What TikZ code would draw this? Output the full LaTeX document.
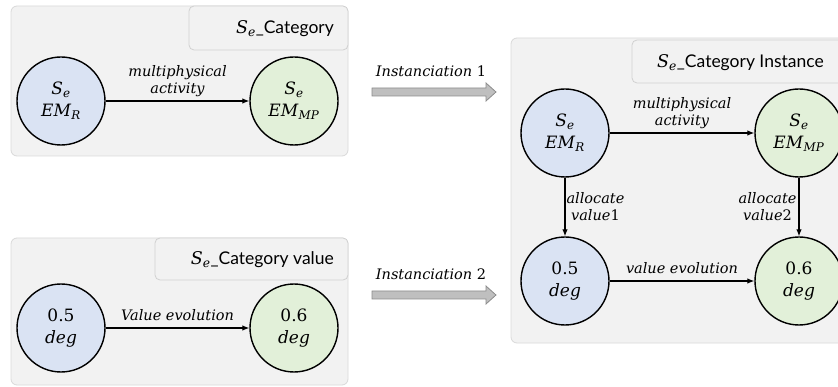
\documentclass[tikz,border=0pt]{standalone}
\usepackage{fontspec}
\setmainfont{DejaVu Serif}
\setsansfont{Lato}
\usetikzlibrary{arrows.meta,positioning,shapes.geometric}
\definecolor{panelgray}{HTML}{F2F2F2}
\definecolor{panelline}{HTML}{D9D9D9}
\definecolor{titleline}{HTML}{D0D0D0}
\definecolor{stateblue}{HTML}{DAE3F3}
\definecolor{stategreen}{HTML}{E2F0D9}
\definecolor{blockfill}{HTML}{BFBFBF}
\definecolor{blockline}{HTML}{8C8C8C}
\newcommand{\Se}{\textrm{\textit{S}\textsubscript{\textit{e}}}}
\newcommand{\EM}[1]{\textit{EM}\textsubscript{\textit{#1}}}

\begin{document}
\begin{tikzpicture}[x=1pt,y=-1pt,
    state/.style={circle, draw=black, line width=1.4pt, minimum size=88pt, inner sep=0pt,
      align=center, font=\fontsize{17}{22}\selectfont},
    rstate/.style={state, fill=stateblue},
    pstate/.style={state, fill=stategreen},
    trans/.style={-{Latex[length=7pt,width=5.5pt]}, line width=1.1pt},
    lbl/.style={font=\fontsize{14.5}{17}\selectfont\itshape, align=center},
    panel/.style={fill=panelgray, draw=panelline, line width=0.8pt, rounded corners=6pt},
    titlebox/.style={fill=panelgray, draw=titleline, line width=0.8pt, rounded corners=5pt},
    titletext/.style={font=\sffamily\fontsize{17.5}{21}\selectfont, inner sep=0pt}]
    \useasboundingbox (0,0) rectangle (838,387);

    % Panels
    \draw[panel] (11,6) rectangle (348,156);
    \draw[titlebox] (189,6) rectangle (348,50);
    \node[titletext, anchor=east] (cattitle) at (334,29) {\Se\_Category};

    \draw[panel] (11,238) rectangle (348,385);
    \draw[titlebox] (155,238) rectangle (348,280);
    \node[titletext, anchor=east] (valtitle) at (334,260) {\Se\_Category value};

    \draw[panel] (511,38) rectangle (860,343);
    \draw[titlebox] (632,40) rectangle (860,83);
    \node[titletext, anchor=west] (insttitle) at (657,63) {\Se\_Category Instance};

    % Category
    \node[rstate] (catR) at (61,101) {\Se\\\EM{R}};
    \node[pstate] (catMP) at (294,101) {\Se\\\EM{MP}};
    \draw[trans] (catR) -- (catMP) node[lbl, midway, above] {multiphysical\\activity};

    % Category value
    \node[rstate] (valR) at (61,328) {0.5\\\textit{deg}};
    \node[pstate] (valMP) at (294,328) {0.6\\\textit{deg}};
    \draw[trans] (valR) -- (valMP) node[lbl, midway, above, yshift=3pt] {Value evolution};

    % Instance
    \node[rstate] (instR) at (565,133) {\Se\\\EM{R}};
    \node[pstate] (instMP) at (799,133) {\Se\\\EM{MP}};
    \node[rstate] (instvR) at (565,281) {0.5\\\textit{deg}};
    \node[pstate] (instvMP) at (799,281) {0.6\\\textit{deg}};
    \draw[trans] (instR) -- (instMP) node[lbl, midway, above] {multiphysical\\activity};
    \draw[trans] (instR) -- (instvR) node[lbl, midway, right, inner sep=1pt] {allocate\\value{\upshape 1}};
    \draw[trans] (instMP) -- (instvMP) node[lbl, midway, left, inner sep=2pt] {allocate\\value{\upshape 2}};
    \draw[trans] (instvR) -- (instvMP) node[lbl, midway, above, yshift=3pt] {value evolution};

    % Instanciation arrows
    \foreach \y/\n in {92/1, 295/2} {
        \node[lbl] (inst\n) at (431,\y-21) {Instanciation {\upshape\n}};
        \draw[fill=blockfill, draw=blockline, line width=0.8pt]
            (372,\y-4) -- (486,\y-4) -- (486,\y-9) -- (496,\y) -- (486,\y+9)
            -- (486,\y+4) -- (372,\y+4) -- cycle;
    }
\end{tikzpicture}
\end{document}
